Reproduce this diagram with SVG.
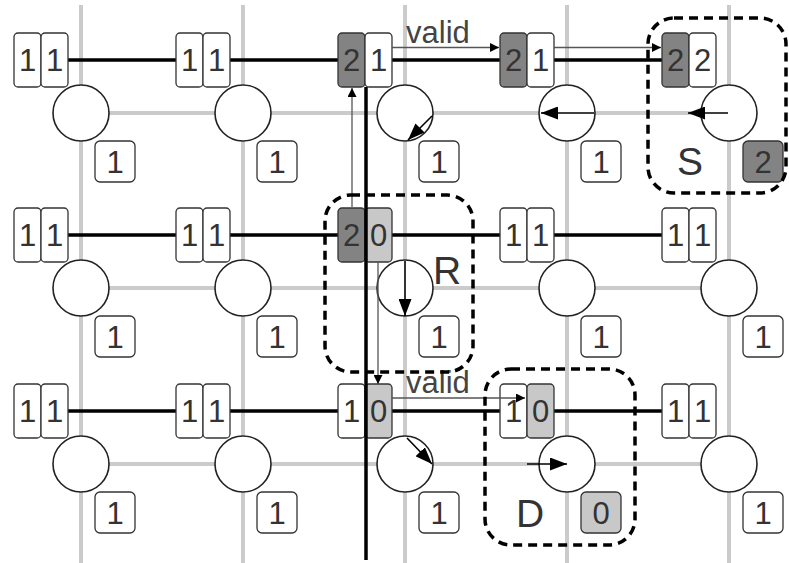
<svg xmlns="http://www.w3.org/2000/svg" width="789" height="563" viewBox="0 0 789 563">
<style>
.grid{stroke:#cbcbcb;stroke-width:4;fill:none}
.bus{stroke:#000;stroke-width:3.5;fill:none}
.b{fill:#fff;stroke:#333;stroke-width:1.3}
.dk{fill:#838383;stroke:#333;stroke-width:1.3}
.lt{fill:#c8c8c8;stroke:#333;stroke-width:1.3}
.c{fill:#fff;stroke:#222;stroke-width:1.6}
.t{font-family:"Liberation Sans",Arial,sans-serif;font-size:31px;fill:#333;text-anchor:middle}
.lbl{font-family:"Liberation Sans",Arial,sans-serif;font-size:39px;fill:#333}
.vl{font-family:"Liberation Sans",Arial,sans-serif;font-size:31px;fill:#444}
.rot{stroke:#000;stroke-width:1.6;fill:none;marker-end:url(#ah)}
.thin{stroke:#555;stroke-width:1.3;fill:none;marker-end:url(#as)}
.dash{fill:none;stroke:#000;stroke-width:3.5;stroke-dasharray:9 6}
</style>
<defs>
<marker id="ah" markerUnits="userSpaceOnUse" viewBox="0 0 17 13" refX="17" refY="6.5" markerWidth="17" markerHeight="13" orient="auto"><path d="M0,0 L17,6.5 L0,13 z" fill="#000"/></marker>
<marker id="as" markerUnits="userSpaceOnUse" viewBox="0 0 9 9" refX="9" refY="4.5" markerWidth="9" markerHeight="9" orient="auto"><path d="M0,0 L9,4.5 L0,9 z" fill="#000"/></marker>
</defs>
<rect width="789" height="563" fill="#fff"/>
<g id="grid">
<path class="grid" d="M81,5V563M243,5V563M405,5V563M567,5V563M729,5V563M81,113H729M81,288H729M81,464H729"/>
</g>
<g id="links">
<path class="bus" d="M68,60H662M68,235H662M68,411H662"/>
</g>
<g id="n00"><circle class="c" cx="81" cy="113" r="28"/><rect class="b" x="14" y="33" width="27" height="54" rx="4"/><rect class="b" x="41" y="33" width="27" height="54" rx="4"/><text class="t" x="27.5" y="71">1</text><text class="t" x="54.5" y="71">1</text><rect class="b" x="95" y="141" width="40" height="41" rx="5"/><text class="t" x="115" y="173">1</text></g>
<g id="n01"><circle class="c" cx="243" cy="113" r="28"/><rect class="b" x="176" y="33" width="27" height="54" rx="4"/><rect class="b" x="203" y="33" width="27" height="54" rx="4"/><text class="t" x="189.5" y="71">1</text><text class="t" x="216.5" y="71">1</text><rect class="b" x="257" y="141" width="40" height="41" rx="5"/><text class="t" x="277" y="173">1</text></g>
<g id="n02"><circle class="c" cx="405" cy="113" r="28"/><path class="rot" d="M432,116L408,140"/><rect class="dk" x="338" y="33" width="27" height="54" rx="4"/><rect class="b" x="365" y="33" width="27" height="54" rx="4"/><text class="t" x="351.5" y="71">2</text><text class="t" x="378.5" y="71">1</text><rect class="b" x="419" y="141" width="40" height="41" rx="5"/><text class="t" x="439" y="173">1</text></g>
<g id="n03"><circle class="c" cx="567" cy="113" r="28"/><path class="rot" d="M594,113H541"/><rect class="dk" x="500" y="33" width="27" height="54" rx="4"/><rect class="b" x="527" y="33" width="27" height="54" rx="4"/><text class="t" x="513.5" y="71">2</text><text class="t" x="540.5" y="71">1</text><rect class="b" x="581" y="141" width="40" height="41" rx="5"/><text class="t" x="601" y="173">1</text></g>
<g id="n04"><circle class="c" cx="729" cy="113" r="28"/><path class="rot" d="M728,113H688"/><rect class="dk" x="662" y="33" width="27" height="54" rx="4"/><rect class="b" x="689" y="33" width="27" height="54" rx="4"/><text class="t" x="675.5" y="71">2</text><text class="t" x="702.5" y="71">2</text><rect class="dk" x="743" y="141" width="40" height="41" rx="5"/><text class="t" x="763" y="173">2</text></g>
<g id="n10"><circle class="c" cx="81" cy="288" r="28"/><rect class="b" x="14" y="208" width="27" height="54" rx="4"/><rect class="b" x="41" y="208" width="27" height="54" rx="4"/><text class="t" x="27.5" y="246">1</text><text class="t" x="54.5" y="246">1</text><rect class="b" x="95" y="316" width="40" height="41" rx="5"/><text class="t" x="115" y="348">1</text></g>
<g id="n11"><circle class="c" cx="243" cy="288" r="28"/><rect class="b" x="176" y="208" width="27" height="54" rx="4"/><rect class="b" x="203" y="208" width="27" height="54" rx="4"/><text class="t" x="189.5" y="246">1</text><text class="t" x="216.5" y="246">1</text><rect class="b" x="257" y="316" width="40" height="41" rx="5"/><text class="t" x="277" y="348">1</text></g>
<g id="n12"><circle class="c" cx="405" cy="288" r="28"/><path class="rot" d="M405,261V316"/><rect class="dk" x="338" y="208" width="27" height="54" rx="4"/><rect class="lt" x="365" y="208" width="27" height="54" rx="4"/><text class="t" x="351.5" y="246">2</text><text class="t" x="378.5" y="246">0</text><rect class="b" x="419" y="316" width="40" height="41" rx="5"/><text class="t" x="439" y="348">1</text></g>
<g id="n13"><circle class="c" cx="567" cy="288" r="28"/><rect class="b" x="500" y="208" width="27" height="54" rx="4"/><rect class="b" x="527" y="208" width="27" height="54" rx="4"/><text class="t" x="513.5" y="246">1</text><text class="t" x="540.5" y="246">1</text><rect class="b" x="581" y="316" width="40" height="41" rx="5"/><text class="t" x="601" y="348">1</text></g>
<g id="n14"><circle class="c" cx="729" cy="288" r="28"/><rect class="b" x="662" y="208" width="27" height="54" rx="4"/><rect class="b" x="689" y="208" width="27" height="54" rx="4"/><text class="t" x="675.5" y="246">1</text><text class="t" x="702.5" y="246">1</text><rect class="b" x="743" y="316" width="40" height="41" rx="5"/><text class="t" x="763" y="348">1</text></g>
<g id="n20"><circle class="c" cx="81" cy="464" r="28"/><rect class="b" x="14" y="384" width="27" height="54" rx="4"/><rect class="b" x="41" y="384" width="27" height="54" rx="4"/><text class="t" x="27.5" y="422">1</text><text class="t" x="54.5" y="422">1</text><rect class="b" x="95" y="492" width="40" height="41" rx="5"/><text class="t" x="115" y="524">1</text></g>
<g id="n21"><circle class="c" cx="243" cy="464" r="28"/><rect class="b" x="176" y="384" width="27" height="54" rx="4"/><rect class="b" x="203" y="384" width="27" height="54" rx="4"/><text class="t" x="189.5" y="422">1</text><text class="t" x="216.5" y="422">1</text><rect class="b" x="257" y="492" width="40" height="41" rx="5"/><text class="t" x="277" y="524">1</text></g>
<g id="n22"><circle class="c" cx="405" cy="464" r="28"/><path class="rot" d="M407,438L432,464"/><rect class="b" x="338" y="384" width="27" height="54" rx="4"/><rect class="lt" x="365" y="384" width="27" height="54" rx="4"/><text class="t" x="351.5" y="422">1</text><text class="t" x="378.5" y="422">0</text><rect class="b" x="419" y="492" width="40" height="41" rx="5"/><text class="t" x="439" y="524">1</text></g>
<g id="n23"><circle class="c" cx="567" cy="464" r="28"/><path class="rot" d="M527,464H567"/><rect class="b" x="500" y="384" width="27" height="54" rx="4"/><rect class="lt" x="527" y="384" width="27" height="54" rx="4"/><text class="t" x="513.5" y="422">1</text><text class="t" x="540.5" y="422">0</text><rect class="lt" x="581" y="492" width="40" height="41" rx="5"/><text class="t" x="601" y="524">0</text></g>
<g id="n24"><circle class="c" cx="729" cy="464" r="28"/><rect class="b" x="662" y="384" width="27" height="54" rx="4"/><rect class="b" x="689" y="384" width="27" height="54" rx="4"/><text class="t" x="675.5" y="422">1</text><text class="t" x="702.5" y="422">1</text><rect class="b" x="743" y="492" width="40" height="41" rx="5"/><text class="t" x="763" y="524">1</text></g>
<g id="connectors">
<path class="bus" d="M366,87V560"/>
<path class="thin" d="M392,47.5H499"/>
<path class="thin" d="M554,47.5H661"/>
<path class="thin" d="M392,398H525"/>
<path class="thin" d="M352,207V88"/>
<path class="thin" d="M378,262V384"/>
<text class="vl" x="406" y="43">valid</text>
<text class="vl" x="406" y="393">valid</text>
</g>
<g id="regions">
<rect class="dash" x="648" y="18" width="138" height="175" rx="26"/>
<rect class="dash" x="325" y="195" width="148" height="177" rx="26"/>
<rect class="dash" x="485" y="369" width="150" height="176" rx="26"/>
<text class="lbl" x="677" y="175">S</text>
<text class="lbl" x="433" y="284">R</text>
<text class="lbl" x="516" y="527">D</text>
</g>
</svg>
